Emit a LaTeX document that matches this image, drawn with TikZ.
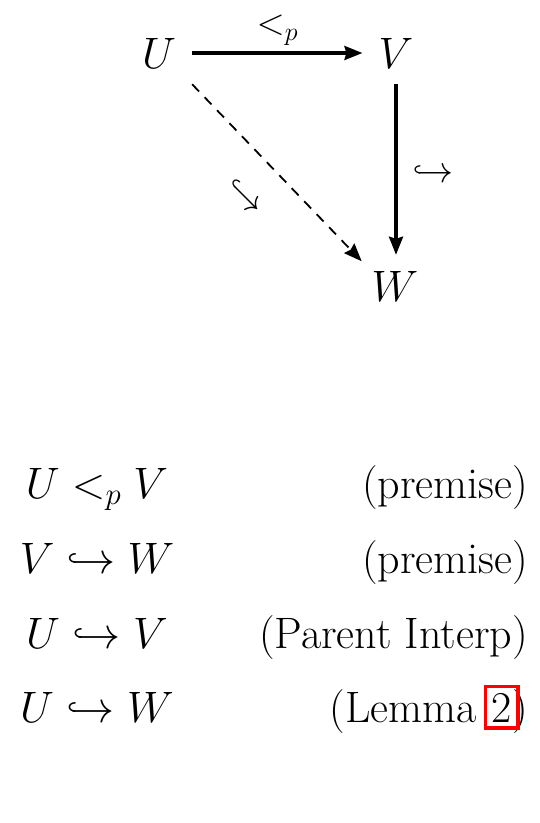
\RequirePackage{fix-cm}
\documentclass[tikz,border=0pt]{standalone}
\usepackage{amsmath}
\usetikzlibrary{arrows.meta,fit}
\tikzset{
big/.style={font=\fontsize{44}{52}\selectfont},
lbl/.style={font=\fontsize{37}{44}\selectfont},
obj/.style={big,inner sep=16pt},
row/.style={big,inner sep=0pt,anchor=base},
why/.style={big,inner sep=0pt,anchor=base east},
mapto/.style={line width=3.2pt,-{Stealth[length=18pt,width=14pt,inset=2pt]}},
dashmap/.style={line width=1.8pt,dash pattern={on 10pt off 8pt},-{Stealth[length=18pt,width=14pt,inset=2pt]}},
}

\begin{document}
\begin{tikzpicture}[x=1pt,y=1pt,yscale=-1,xscale=1]
\useasboundingbox (0,0) rectangle (540,823);

% Text Node
\node (U) [obj] at (159,53) {$U$};
% Text Node
\node (V) [obj] at (396,53) {$V$};
% Text Node
\node (W) [obj] at (395,286) {$W$};

%Straight Lines
\draw [mapto] (U.east) -- (V.west) node [midway,above,lbl,inner sep=6pt] {$<_p$};
%Straight Lines
\draw [mapto] (V.south) -- (V.south |- W.north) node [midway,right,lbl,inner sep=15pt,yshift=-5pt] {$\hookrightarrow$};
%Straight Lines (dashed)
\draw [dashmap,shorten >=-9pt] (U.south east) -- (W.north west) node [midway,lbl,xshift=-30pt,yshift=-28pt,rotate=-45] {$\hookrightarrow$};

% Text Node
\node (p1) [row] at (97,498) {$U <_p V$};
\node (p2) [row] at (97,573) {$V \hookrightarrow W$};
\node (p3) [row] at (97,648) {$U \hookrightarrow V$};
\node (p4) [row] at (97,722) {$U \hookrightarrow W$};

% Text Node
\node (r1) [why] at (528,498) {(premise)};
\node (r2) [why] at (528,573) {(premise)};
\node (r3) [why] at (528,648) {(Parent Interp)};
\node (r4c) [why] at (528,722) {)};
\node (r4n) [why] at (r4c.base west) {2};
\node (r4) [why] at (r4n.base west) {(Lemma\kern0.333em};
%link box
\node (r4box) [draw=red,line width=3.5pt,inner sep=6pt,fit=(r4n)] {};
\end{tikzpicture}
\end{document}
